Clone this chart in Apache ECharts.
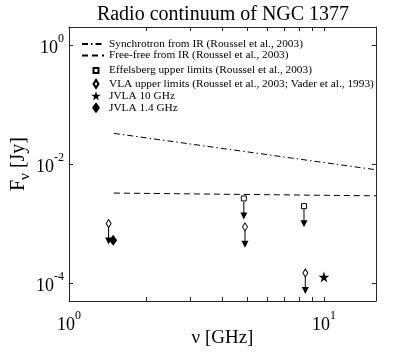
<!DOCTYPE html>
<html>
<head>
<meta charset="utf-8">
<script src="https://cdn.jsdelivr.net/npm/echarts@6/dist/echarts.min.js"></script>
<style>
html, body { margin: 0; padding: 0; background: #fff; }
#chart { width: 415px; height: 356px; }
</style>
</head>
<body>
<div id="chart"></div>
<script>
// frequencies in GHz, fluxes in Jy
var synchFreq = [1.5, 16];
var synchFlux = [0.0327, 0.0080];
var freeFreq = [1.5, 16];
var freeFlux = [0.00325, 0.00292];
var effFreq = [4.85, 8.35];
var effFlux = [0.00264, 0.00196];
var vlaFreq = [1.43, 4.9, 8.45];
var vlaFlux = [0.00100, 0.00088, 0.000148];
var jvla10Freq = [10];
var jvla10Flux = [0.000127];
var jvla14Freq = [1.49];
var jvla14Flux = [0.000525];

var xTicks = [1, 2, 3, 4, 5, 6, 7, 8, 9, 10];
var xLabels = [1, 10];
var yTicks = [1e-4, 1e-2, 1];

var FONT = 'Liberation Serif';
var AX = '#262626';
var STAR = 'path://M50,0 L61,35 L98,35 L68,57 L79,91 L50,70 L21,91 L32,57 L2,35 L39,35 Z';

var N_SYNCH = 'Synchrotron from IR (Roussel et al., 2003)';
var N_FREE = 'Free-free from IR (Roussel et al., 2003)';
var N_EFF = 'Effelsberg upper limits (Roussel et al., 2003)';
var N_VLA = 'VLA upper limits (Roussel et al., 2003; Vader et al., 1993)';
var N_J10 = 'JVLA 10 GHz';
var N_J14 = 'JVLA 1.4 GHz';

function pairs(xs, ys) {
	var out = [];
	for (var i = 0; i < xs.length; i++) out.push([xs[i], ys[i]]);
	return out;
}

function powLabel(v) {
	var e = Math.round(Math.log(v) / Math.LN10);
	return '{b|10}{s|' + e + '}';
}

var labelRich = {
	b: { fontFamily: FONT, fontSize: 18, color: '#000', lineHeight: 24, verticalAlign: 'bottom' },
	s: { fontFamily: FONT, fontSize: 12, color: '#000', lineHeight: 12, verticalAlign: 'top' }
};

// down arrows for upper limits
function arrowItem(params, api) {
	var p = api.coord([api.value(0), api.value(1)]);
	var x = p[0], y = p[1];
	var len = 21, hw = 3.5, hh = 7;
	return {
		type: 'group',
		children: [{
			type: 'line',
			shape: { x1: x, y1: y + 3, x2: x, y2: y + len - hh + 1 },
			style: { stroke: '#000', lineWidth: 1 }
		}, {
			type: 'polygon',
			shape: { points: [[x - hw, y + len - hh], [x + hw, y + len - hh], [x, y + len]] },
			style: { fill: '#000' }
		}]
	};
}

function sideAxis(pos, isX) {
	var a = {
		type: 'log',
		position: pos,
		axisLine: { show: true, onZero: false, lineStyle: { color: AX, width: 1 } },
		axisTick: { show: true, inside: true, length: 4, lineStyle: { color: AX }, customValues: isX ? xTicks : yTicks },
		axisLabel: { show: false },
		splitLine: { show: false }
	};
	if (isX) { a.min = 1; a.max = 16; } else { a.min = 5e-5; a.max = 2; }
	return a;
}

var legendText = { fontFamily: FONT, fontSize: 11.3, color: '#000', lineHeight: 12 };

var chart = echarts.init(document.getElementById('chart'));
var option = {
	animation: false,
	title: {
		text: 'Radio continuum of NGC 1377',
		left: 218, top: 0, textAlign: 'center',
		textStyle: { fontFamily: FONT, fontSize: 20, fontWeight: 'normal', color: '#000' }
	},
	grid: { left: 69, top: 27, right: 39, bottom: 55, containLabel: false, outerBoundsMode: 'none' },
	legend: [{
		orient: 'vertical',
		left: 76, top: 33,
		itemWidth: 22, itemHeight: 8, itemGap: -0.6,
		textStyle: legendText,
		data: [
			{ name: N_SYNCH, itemStyle: { opacity: 0 } },
			{ name: N_FREE, itemStyle: { opacity: 0 } }
		]
	}, {
		orient: 'vertical',
		left: 82, top: 58.5,
		itemWidth: 16, itemHeight: 12, itemGap: -0.6,
		textStyle: legendText,
		data: [
			{ name: N_EFF, icon: 'path://M0,0M16,12M5.5,3.5h5v5h-5z' },
			{ name: N_VLA, icon: 'path://M0,0M16,12M8,2L10.5,6L8,10L5.5,6z' },
			{ name: N_J10, icon: 'path://M0,0M16,12M8,1L9.1,4.5L12.8,4.5L9.8,6.7L10.9,10.1L8,8L5.1,10.1L6.2,6.7L3.2,4.5L6.9,4.5z' },
			{ name: N_J14, icon: 'path://M0,0M16,12M8,0.5L12,6L8,11.5L4,6z' }
		]
	}],
	xAxis: [{
		type: 'log', min: 1, max: 16,
		position: 'bottom',
		name: 'ν [GHz]', nameLocation: 'middle', nameGap: 28, nameMoveOverlap: false,
		nameTextStyle: { fontFamily: FONT, fontSize: 19, color: '#000' },
		axisLine: { show: true, onZero: false, lineStyle: { color: AX, width: 1 } },
		axisTick: { show: true, inside: true, length: 4, lineStyle: { color: AX }, customValues: xTicks },
		axisLabel: { customValues: xLabels, formatter: powLabel, rich: labelRich, margin: 9 },
		splitLine: { show: false }
	}, sideAxis('top', true)],
	yAxis: [{
		type: 'log', min: 5e-5, max: 2,
		position: 'left',
		name: '{f|F}{n|ν}{f| [Jy]}', nameLocation: 'middle', nameGap: 36, nameRotate: 90, nameMoveOverlap: false,
		nameTextStyle: {
			rich: {
				f: { fontFamily: FONT, fontSize: 20, color: '#000', lineHeight: 24, verticalAlign: 'top' },
				n: { fontFamily: FONT, fontSize: 15, color: '#000', lineHeight: 15, verticalAlign: 'bottom' }
			}
		},
		axisLine: { show: true, onZero: false, lineStyle: { color: AX, width: 1 } },
		axisTick: { show: true, inside: true, length: 4, lineStyle: { color: AX }, customValues: yTicks },
		axisLabel: { customValues: yTicks, formatter: powLabel, rich: labelRich, margin: 5 },
		splitLine: { show: false }
	}, sideAxis('right', false)],
	series: [{
		name: N_SYNCH,
		type: 'line', symbol: 'none',
		data: pairs(synchFreq, synchFlux),
		itemStyle: { color: '#000' },
		lineStyle: { color: '#000', width: 1, type: [6, 3, 1.5, 3] }
	}, {
		name: N_FREE,
		type: 'line', symbol: 'none',
		data: pairs(freeFreq, freeFlux),
		itemStyle: { color: '#000' },
		lineStyle: { color: '#000', width: 1, type: [6, 4] }
	}, {
		type: 'custom', renderItem: arrowItem, z: 1,
		data: pairs(effFreq, effFlux).concat(pairs(vlaFreq, vlaFlux))
	}, {
		name: N_EFF,
		type: 'scatter', symbol: 'rect', symbolSize: 5, z: 3,
		data: pairs(effFreq, effFlux),
		itemStyle: { color: '#fff', borderColor: '#000', borderWidth: 1, opacity: 1 }
	}, {
		name: N_VLA,
		type: 'scatter', symbol: 'diamond', symbolSize: [5, 8], z: 3,
		data: pairs(vlaFreq, vlaFlux),
		itemStyle: { color: '#fff', borderColor: '#000', borderWidth: 1, opacity: 1 }
	}, {
		name: N_J10,
		type: 'scatter', symbol: STAR, symbolSize: 11, z: 3,
		data: pairs(jvla10Freq, jvla10Flux),
		itemStyle: { color: '#000', opacity: 1 }
	}, {
		name: N_J14,
		type: 'scatter', symbol: 'diamond', symbolSize: [8, 11], z: 3,
		data: pairs(jvla14Freq, jvla14Flux),
		itemStyle: { color: '#000', opacity: 1 }
	}]
};
chart.setOption(option);
</script>
</body>
</html>
